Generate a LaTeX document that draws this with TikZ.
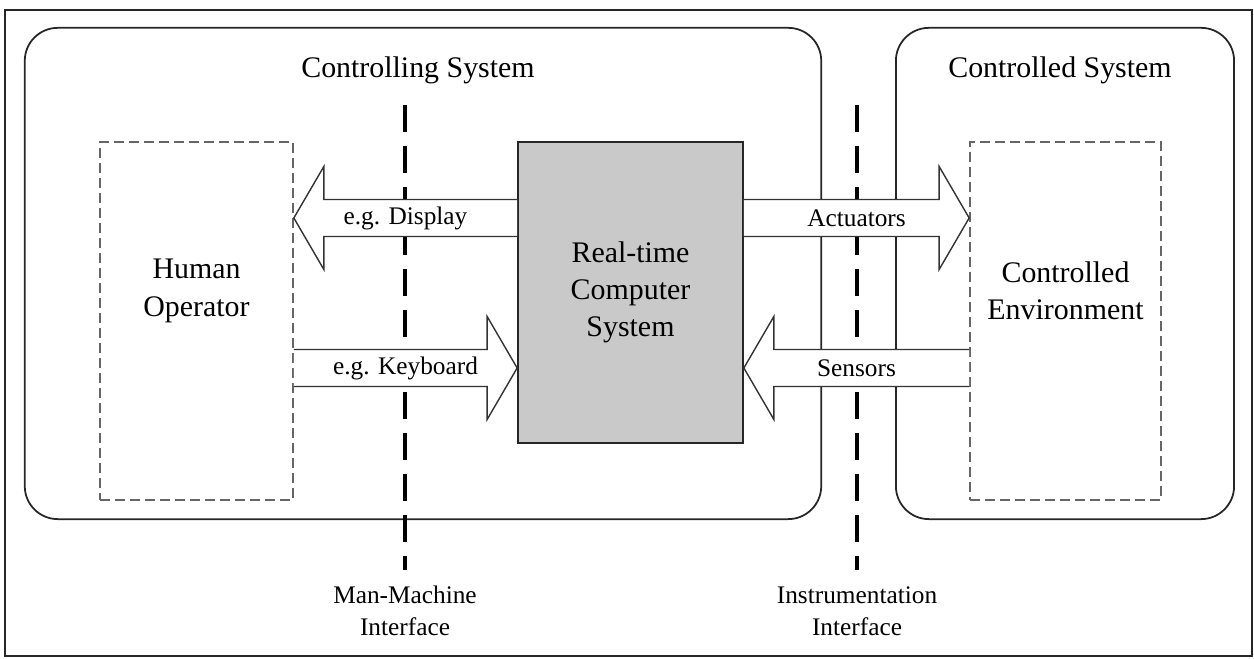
\documentclass[tikz,border=0pt]{standalone}
\usepackage{fontspec}
\setmainfont{Liberation Serif}
\usetikzlibrary{calc}
\definecolor{compgray}{RGB}{201,201,201}

\begin{document}
\begin{tikzpicture}[x=0.01cm, y=-0.01cm, draw=black!85, line width=0.45pt]
    \tikzstyle{system}=[draw, rounded corners=0.33cm, inner sep=0pt, line width=0.5pt, minimum height=4.91cm]
    \tikzstyle{party}=[draw=black!60, dash pattern=on 0.1cm off 0.05cm, inner sep=0pt, minimum height=3.58cm]
    \tikzstyle{computer}=[draw, fill=compgray, inner sep=0pt, minimum width=2.25cm, minimum height=3.01cm]
    \tikzstyle{big}=[font=\fontsize{8.5}{10.6}\selectfont, align=center]
    \tikzstyle{annot}=[font=\fontsize{7.2}{9.1}\selectfont, align=center, inner sep=0pt]
    \tikzstyle{interface}=[line width=0.9pt, draw=black, dash pattern=on 0.27cm off 0.14cm]
    \tikzstyle{flow}=[fill=white, draw=black!80, line width=0.4pt, line join=miter]

    \useasboundingbox (0,0) rectangle (1254,659);

    % Outer frame
    \draw[line width=0.8pt] (5,10) rectangle (1252,656);

    % Draw the two systems
    \node[system, minimum width=7.96cm] (ctrl) at (423,273.5) {};
    \node[system, minimum width=3.38cm] (ctld) at (1065,273.5) {};
    \node[big] (ctrl-title) at (418,70) {Controlling System};
    \node[big] (ctld-title) at (1060,70) {Controlled System};

    % Human operator and controlled environment
    \node[party, minimum width=1.93cm] (hum) at (196.5,321) {};
    \node[party, minimum width=1.91cm] (env) at (1065.5,321) {};
    \node[big] (hum-text) at ($(hum)+(0,-30)$) {Human\\Operator};
    \node[big] (env-text) at ($(env)+(0,-30)$) {Controlled\\Environment};

    % Draw the interfaces
    \coordinate (mmi) at (405,105);
    \coordinate (ii) at (857,105);
    \foreach \c in {mmi,ii}
        \draw[interface] (\c) -- ++(0,465);
    \node[annot] (mmi-label) at (405,611) {Man-Machine\\Interface};
    \node[annot] (ii-label) at (857,611) {Instrumentation\\Interface};

    % The computer in the middle
    \node[computer, big] (comp) at (630.5,292.5) {Real-time\\Computer\\System};

    % Connect the computer with both sides
    \coordinate (up) at (0,218);
    \coordinate (down) at (0,368);
    \foreach \i/\tl/\tp/\rw/\d/\txt in {1/comp.west/hum.east/up/1/e.g. Display,
                                        2/hum.east/comp.west/down/-1/e.g. Keyboard,
                                        3/comp.east/env.west/up/-1/Actuators,
                                        4/env.west/comp.east/down/1/Sensors}
    {
        \draw[flow] ($(\tl |- \rw)+(0,-18.5)$) -- ($(\tp |- \rw)+(\d*30,-18.5)$)
            -- ($(\tp |- \rw)+(\d*30,-51.5)$) -- (\tp |- \rw)
            -- ($(\tp |- \rw)+(\d*30,51.5)$) -- ($(\tp |- \rw)+(\d*30,18.5)$)
            -- ($(\tl |- \rw)+(0,18.5)$);
        \node[annot] (flow-\i) at ($(\tl |- \rw)!0.5!(\tp |- \rw)$) {\txt};
    }
\end{tikzpicture}
\end{document}
